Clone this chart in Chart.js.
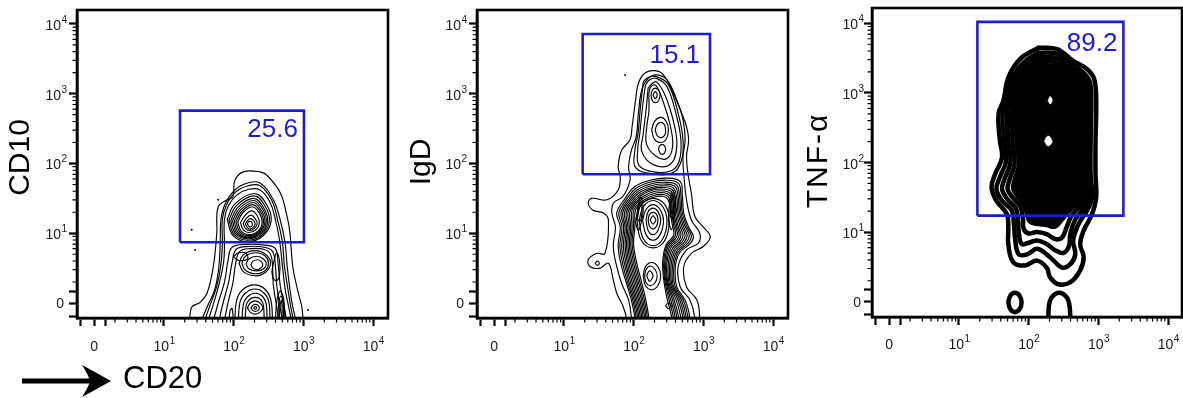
<!DOCTYPE html>
<html><head><meta charset="utf-8">
<script src="https://cdn.jsdelivr.net/npm/chart.js@4.4.1/dist/chart.umd.min.js"></script>
<style>
html,body{margin:0;padding:0;background:#fff}
body{width:1183px;height:398px;overflow:hidden;position:relative}
canvas{position:absolute;top:0}
</style></head><body>
<canvas id="c1" width="400" height="398" style="left:0px"></canvas>
<canvas id="c2" width="390" height="398" style="left:400px"></canvas>
<canvas id="c3" width="393" height="398" style="left:790px"></canvas>
<script>
// ---------- axis ticks (axis units = decades of a biexponential display) ----------
const tickValues = [0, 1, 2, 3, 4];
const tickBase = ['0', '10', '10', '10', '10'];
const tickExp = ['', '1', '2', '3', '4'];
const extraTickValues = [-0.19, 0.17];
const panelTitles = ['CD10', 'IgD', 'TNF-α'];
const xAxisTitle = 'CD20';
const gatePercents = ['25.6', '15.1', '89.2'];
// gates: [xMin, yMin, xMax, yMax]
const gateCD10 = [1.233, 0.87, 3.01, 2.757];
const gateIgD = [1.271, 1.845, 3.097, 3.857];
const gateTNF = [1.267, 1.236, 3.36, 4.02];

// ---------- panel 1 (CD10 vs CD20) contours ----------
const cd10Open = [
  [1.37,-0.3, 1.40,-0.06, 1.52,0.01, 1.62,0.14, 1.71,0.52, 1.76,1.0, 1.78,1.38, 1.91,1.48, 1.99,1.52, 2.02,1.76, 2.14,1.88, 2.38,1.88, 2.48,1.83, 2.67,1.58, 2.77,1.23, 2.81,1.0, 2.85,0.52, 2.93,0.14, 2.98,-0.06, 3.0,-0.3],
  [1.52,-0.3, 1.62,-0.06, 1.73,0.19, 1.79,0.52, 1.81,0.9, 1.82,1.2, 1.88,1.42, 2.02,1.62, 2.2,1.72, 2.38,1.72, 2.57,1.48, 2.67,1.19, 2.74,0.86, 2.77,0.52, 2.81,0.19, 2.85,-0.06, 2.91,-0.3],
  [1.57,-0.3, 1.66,-0.04, 1.76,0.24, 1.82,0.56, 1.84,0.88, 1.84,1.2, 1.9,1.41, 2.03,1.59, 2.21,1.68, 2.38,1.68, 2.55,1.47, 2.63,1.2, 2.7,0.88, 2.73,0.53, 2.78,0.2, 2.82,-0.05, 2.87,-0.3],
  [1.62,-0.3, 1.71,-0.02, 1.8,0.3, 1.86,0.6, 1.87,0.85, 1.87,1.2, 1.93,1.4, 2.05,1.55, 2.22,1.63, 2.38,1.62, 2.52,1.45, 2.6,1.2, 2.66,0.9, 2.7,0.55, 2.74,0.2, 2.79,-0.05, 2.84,-0.3],
  [1.7,-0.3, 1.78,0.0, 1.87,0.3, 1.92,0.6, 1.98,0.8, 2.2,0.84, 2.45,0.83, 2.6,0.78, 2.64,0.55, 2.67,0.25, 2.72,-0.02, 2.77,-0.3],
  [1.78,-0.3, 1.85,0.0, 1.93,0.3, 1.98,0.58, 2.04,0.77, 2.22,0.81, 2.44,0.8, 2.56,0.74, 2.6,0.54, 2.62,0.25, 2.66,-0.02, 2.71,-0.3],
  [1.86,-0.3, 1.92,0.0, 1.99,0.28, 2.03,0.56, 2.09,0.74, 2.25,0.78, 2.43,0.77, 2.53,0.7, 2.56,0.52, 2.57,0.27, 2.61,0.0, 2.66,-0.3],
  [2.02,-0.35, 2.04,0.02, 2.13,0.19, 2.3,0.26, 2.46,0.19, 2.54,0.02, 2.56,-0.35],
  [2.07,-0.35, 2.09,0.0, 2.17,0.14, 2.31,0.2, 2.44,0.14, 2.51,0.0, 2.52,-0.35],
  [2.12,-0.35, 2.14,-0.02, 2.2,0.09, 2.31,0.14, 2.42,0.09, 2.47,-0.02, 2.48,-0.35],
  [2.17,-0.35, 2.18,-0.04, 2.23,0.05, 2.31,0.08, 2.39,0.05, 2.43,-0.04, 2.44,-0.35],
  [2.6,-0.3, 2.62,0.02, 2.67,0.17, 2.72,0.05, 2.74,-0.3],
  [2.63,-0.3, 2.65,0.0, 2.68,0.1, 2.71,0.0, 2.72,-0.3],
  [2.65,-0.3, 2.67,-0.02, 2.69,0.04, 2.7,-0.3],
  [1.93,-0.3, 1.95,-0.12, 1.98,-0.08, 2.0,-0.3]
];
const cd10Closed = [
  [1.91,1.2, 1.99,0.97, 2.2,0.88, 2.42,0.96, 2.54,1.18, 2.47,1.42, 2.3,1.57, 2.02,1.42],
  [1.935,1.19, 2.01,0.98, 2.2,0.9, 2.41,0.975, 2.515,1.175, 2.45,1.395, 2.295,1.535, 2.04,1.395],
  [1.96,1.18, 2.03,0.99, 2.21,0.92, 2.4,0.99, 2.49,1.17, 2.43,1.37, 2.29,1.5, 2.06,1.37],
  [1.985,1.175, 2.05,1.0, 2.21,0.935, 2.385,1.0, 2.47,1.165, 2.415,1.35, 2.285,1.47, 2.08,1.35],
  [2.01,1.17, 2.07,1.01, 2.21,0.95, 2.37,1.01, 2.45,1.16, 2.4,1.33, 2.28,1.44, 2.1,1.33],
  [2.035,1.165, 2.09,1.02, 2.215,0.965, 2.36,1.02, 2.43,1.155, 2.385,1.31, 2.275,1.41, 2.115,1.31],
  [2.06,1.16, 2.11,1.03, 2.22,0.98, 2.35,1.03, 2.41,1.15, 2.37,1.29, 2.27,1.38, 2.13,1.29],
  [2.1,1.15, 2.14,1.05, 2.22,1.01, 2.32,1.05, 2.37,1.14, 2.34,1.25, 2.26,1.32, 2.16,1.25],
  [2.14,1.14, 2.17,1.07, 2.23,1.04, 2.3,1.07, 2.34,1.14, 2.31,1.21, 2.25,1.26, 2.18,1.21],
  [2.17,1.13, 2.2,1.08, 2.23,1.06, 2.28,1.08, 2.31,1.13, 2.29,1.18, 2.24,1.21, 2.2,1.18],
  [2.2,1.13, 2.22,1.1, 2.24,1.09, 2.26,1.1, 2.27,1.13, 2.26,1.16, 2.24,1.17, 2.21,1.16],
  [2.08,0.57, 2.14,0.45, 2.31,0.39, 2.46,0.44, 2.53,0.57, 2.47,0.69, 2.31,0.75, 2.14,0.69],
  [2.12,0.57, 2.17,0.47, 2.32,0.42, 2.46,0.47, 2.5,0.57, 2.46,0.67, 2.32,0.72, 2.17,0.67],
  [2.18,0.56, 2.22,0.49, 2.33,0.46, 2.43,0.49, 2.47,0.56, 2.43,0.63, 2.33,0.67, 2.22,0.63],
  [2.25,0.55, 2.28,0.5, 2.34,0.48, 2.39,0.5, 2.42,0.55, 2.39,0.6, 2.34,0.62, 2.28,0.6],
  [2.55,0.45, 2.58,0.6, 2.62,0.72, 2.66,0.6, 2.66,0.4, 2.62,0.32, 2.57,0.35],
  [2.0,0.66, 2.08,0.61, 2.2,0.63, 2.18,0.71, 2.07,0.72],
  [2.2,-0.07, 2.24,0.0, 2.31,0.03, 2.38,0.0, 2.42,-0.07, 2.38,-0.13, 2.31,-0.16, 2.24,-0.13],
  [2.25,-0.07, 2.28,-0.03, 2.31,-0.02, 2.35,-0.03, 2.37,-0.07, 2.35,-0.11, 2.31,-0.12, 2.28,-0.11],
  [2.29,-0.07, 2.31,-0.05, 2.33,-0.07, 2.31,-0.09]
];
const cd10Events = [1.4,1.05, 1.45,0.76, 1.78,1.48, 3.07,-0.1];

// ---------- panel 2 (IgD vs CD20) contours ----------
const igdOpen = [
  [1.90,-0.39, 1.90,-0.22, 1.85,-0.05, 1.76,0.14, 1.71,0.33, 1.64,0.57, 1.52,0.50, 1.38,0.52, 1.35,0.62, 1.47,0.71, 1.59,0.71, 1.64,1.19, 1.57,1.29, 1.42,1.33, 1.35,1.43, 1.40,1.50, 1.62,1.48, 1.78,1.62, 1.81,1.81, 1.78,1.95, 1.83,2.19, 1.95,2.34, 1.98,2.53, 2.03,2.91, 2.07,3.15, 2.17,3.3, 2.31,3.33, 2.43,3.27, 2.57,3.01, 2.69,2.72, 2.76,2.53, 2.79,2.34, 2.76,2.10, 2.78,1.86, 2.83,1.57, 2.88,1.24, 3.0,1.09, 3.1,0.95, 3.0,0.81, 2.83,0.71, 2.72,0.52, 2.76,0.23, 2.91,0.04, 2.95,-0.22, 2.95,-0.39],
  [1.97,-0.39, 1.97,-0.22, 1.93,0.04, 1.83,0.28, 1.76,0.52, 1.71,0.81, 1.74,1.09, 1.69,1.29, 1.71,1.43, 1.85,1.53, 1.95,1.76, 1.93,1.95, 1.97,2.19, 2.04,2.39, 2.07,2.72, 2.12,3.06, 2.21,3.22, 2.33,3.27, 2.48,3.2, 2.62,2.91, 2.71,2.63, 2.74,2.34, 2.71,2.10, 2.72,1.86, 2.76,1.48, 2.83,1.19, 2.95,1.0, 2.93,0.86, 2.76,0.76, 2.64,0.52, 2.67,0.23, 2.81,0.04, 2.88,-0.22, 2.88,-0.39],
  [2.02,-0.39, 2.02,-0.22, 1.97,0.04, 1.9,0.28, 1.83,0.52, 1.78,0.81, 1.81,1.09, 1.76,1.29, 1.88,1.5, 2.02,1.67, 2.24,1.76, 2.48,1.79, 2.67,1.74, 2.7,1.55, 2.72,1.29, 2.79,1.09, 2.86,0.95, 2.8,0.84, 2.66,0.72, 2.6,0.52, 2.62,0.23, 2.74,0.04, 2.81,-0.22, 2.81,-0.39],
  [2.04,-0.39, 2.04,-0.22, 1.99,0.04, 1.92,0.28, 1.855,0.52, 1.805,0.81, 1.835,1.09, 1.79,1.29, 1.9,1.485, 2.035,1.645, 2.25,1.735, 2.475,1.76, 2.645,1.715, 2.68,1.54, 2.7,1.29, 2.765,1.095, 2.83,0.955, 2.775,0.85, 2.64,0.73, 2.58,0.53, 2.595,0.24, 2.715,0.04, 2.785,-0.22, 2.785,-0.39],
  [2.06,-0.39, 2.06,-0.22, 2.01,0.04, 1.94,0.28, 1.88,0.52, 1.83,0.81, 1.86,1.09, 1.82,1.29, 1.92,1.47, 2.05,1.62, 2.26,1.71, 2.47,1.73, 2.62,1.69, 2.66,1.53, 2.68,1.29, 2.74,1.1, 2.8,0.96, 2.75,0.86, 2.62,0.74, 2.56,0.54, 2.57,0.25, 2.69,0.04, 2.76,-0.22, 2.76,-0.39],
  [2.08,-0.39, 2.08,-0.22, 2.03,0.04, 1.96,0.29, 1.9,0.53, 1.855,0.815, 1.88,1.09, 1.845,1.29, 1.935,1.455, 2.065,1.6, 2.265,1.685, 2.465,1.705, 2.6,1.665, 2.64,1.515, 2.66,1.29, 2.715,1.1, 2.77,0.965, 2.725,0.87, 2.6,0.755, 2.54,0.55, 2.55,0.26, 2.665,0.04, 2.735,-0.22, 2.735,-0.39],
  [2.1,-0.39, 2.1,-0.22, 2.05,0.04, 1.98,0.3, 1.92,0.54, 1.88,0.82, 1.9,1.09, 1.87,1.29, 1.95,1.44, 2.08,1.58, 2.27,1.66, 2.46,1.68, 2.58,1.64, 2.62,1.5, 2.64,1.29, 2.69,1.1, 2.74,0.97, 2.7,0.88, 2.58,0.77, 2.52,0.56, 2.53,0.27, 2.64,0.04, 2.71,-0.22, 2.71,-0.39],
  [2.12,-0.39, 2.12,-0.22, 2.07,0.045, 2.0,0.31, 1.94,0.55, 1.9,0.825, 1.92,1.09, 1.895,1.29, 1.965,1.425, 2.095,1.56, 2.275,1.64, 2.455,1.655, 2.565,1.615, 2.6,1.485, 2.62,1.29, 2.665,1.1, 2.71,0.975, 2.675,0.89, 2.56,0.785, 2.5,0.57, 2.51,0.285, 2.61,0.045, 2.68,-0.22, 2.68,-0.39],
  [2.14,-0.39, 2.14,-0.22, 2.09,0.05, 2.02,0.32, 1.96,0.56, 1.92,0.83, 1.94,1.09, 1.92,1.29, 1.98,1.41, 2.11,1.54, 2.28,1.62, 2.45,1.63, 2.55,1.59, 2.58,1.47, 2.6,1.29, 2.64,1.1, 2.68,0.98, 2.65,0.9, 2.54,0.8, 2.48,0.58, 2.49,0.3, 2.58,0.05, 2.65,-0.22, 2.65,-0.39],
  [2.16,-0.39, 2.16,-0.22, 2.11,0.055, 2.04,0.33, 1.98,0.57, 1.94,0.835, 1.96,1.09, 1.945,1.29, 1.995,1.4, 2.125,1.52, 2.285,1.595, 2.445,1.605, 2.535,1.565, 2.565,1.455, 2.58,1.29, 2.62,1.1, 2.655,0.985, 2.625,0.91, 2.52,0.81, 2.465,0.59, 2.475,0.315, 2.555,0.055, 2.625,-0.22, 2.625,-0.39],
  [2.18,-0.39, 2.18,-0.22, 2.13,0.06, 2.06,0.34, 2.0,0.58, 1.96,0.84, 1.98,1.09, 1.97,1.29, 2.01,1.39, 2.14,1.5, 2.29,1.57, 2.44,1.58, 2.52,1.54, 2.55,1.44, 2.56,1.29, 2.6,1.1, 2.63,0.99, 2.6,0.92, 2.5,0.82, 2.45,0.6, 2.46,0.33, 2.53,0.06, 2.6,-0.22, 2.6,-0.39],
  [2.2,-0.39, 2.2,-0.22, 2.15,0.065, 2.08,0.35, 2.02,0.59, 1.98,0.845, 2.0,1.09, 1.995,1.29, 2.03,1.38, 2.155,1.48, 2.295,1.545, 2.43,1.555, 2.505,1.515, 2.535,1.42, 2.545,1.29, 2.58,1.1, 2.605,0.995, 2.58,0.93, 2.485,0.83, 2.435,0.61, 2.445,0.345, 2.505,0.065, 2.575,-0.22, 2.575,-0.39],
  [2.22,-0.39, 2.22,-0.22, 2.17,0.07, 2.1,0.36, 2.04,0.6, 2.0,0.85, 2.02,1.09, 2.02,1.29, 2.05,1.37, 2.17,1.46, 2.3,1.52, 2.42,1.53, 2.49,1.49, 2.52,1.4, 2.53,1.29, 2.56,1.1, 2.58,1.0, 2.56,0.94, 2.47,0.84, 2.42,0.62, 2.43,0.36, 2.48,0.07, 2.55,-0.22, 2.55,-0.39]
];
const igdClosed = [
  [2.14,3.17, 2.1,2.82, 2.065,2.43, 2.02,2.19, 2.03,1.94, 2.29,1.85, 2.57,1.87, 2.69,2.05, 2.71,2.33, 2.65,2.68, 2.5,3.13, 2.33,3.245, 2.2,3.23],
  [2.17,3.12, 2.13,2.82, 2.09,2.43, 2.06,2.19, 2.08,1.97, 2.29,1.88, 2.55,1.9, 2.66,2.05, 2.68,2.33, 2.62,2.67, 2.48,3.1, 2.33,3.22, 2.23,3.2],
  [2.21,3.08, 2.18,2.77, 2.14,2.43, 2.12,2.17, 2.29,1.98, 2.53,1.99, 2.62,2.24, 2.58,2.57, 2.46,2.96, 2.33,3.17, 2.26,3.14],
  [2.22,3.0, 2.22,2.74, 2.19,2.53, 2.19,2.27, 2.33,2.1, 2.48,2.07, 2.56,2.24, 2.53,2.53, 2.42,2.9, 2.32,3.12, 2.25,3.1],
  [2.25,2.98, 2.27,2.9, 2.31,2.87, 2.36,2.9, 2.38,2.98, 2.36,3.05, 2.31,3.08, 2.27,3.05],
  [2.28,2.98, 2.31,2.93, 2.34,2.98, 2.31,3.03],
  [2.26,2.48, 2.3,2.35, 2.39,2.3, 2.47,2.35, 2.5,2.48, 2.47,2.6, 2.39,2.66, 2.3,2.6],
  [2.31,2.48, 2.34,2.4, 2.4,2.37, 2.45,2.41, 2.46,2.48, 2.44,2.56, 2.39,2.59, 2.34,2.56],
  [2.36,2.2, 2.38,2.15, 2.42,2.13, 2.45,2.16, 2.46,2.21, 2.44,2.26, 2.41,2.27, 2.37,2.25],
  [2.05,1.18, 2.11,0.9, 2.28,0.79, 2.45,0.9, 2.51,1.18, 2.45,1.41, 2.28,1.5, 2.11,1.41],
  [2.08,1.18, 2.14,0.92, 2.28,0.82, 2.42,0.92, 2.48,1.18, 2.42,1.38, 2.28,1.47, 2.14,1.38],
  [2.13,1.18, 2.18,0.98, 2.28,0.9, 2.38,0.98, 2.43,1.18, 2.38,1.34, 2.28,1.41, 2.18,1.34],
  [2.18,1.19, 2.21,1.04, 2.28,0.98, 2.35,1.04, 2.39,1.19, 2.35,1.31, 2.28,1.36, 2.21,1.31],
  [2.21,1.19, 2.23,1.1, 2.28,1.06, 2.33,1.1, 2.35,1.19, 2.33,1.27, 2.28,1.3, 2.23,1.27],
  [2.24,1.19, 2.26,1.15, 2.28,1.13, 2.3,1.15, 2.32,1.19, 2.3,1.23, 2.28,1.25, 2.26,1.23],
  [2.03,1.15, 2.06,1.35, 2.1,1.52, 2.14,1.35, 2.11,1.15, 2.07,1.04],
  [2.05,1.2, 2.07,1.35, 2.1,1.45, 2.12,1.33, 2.1,1.18],
  [2.5,1.2, 2.52,1.45, 2.56,1.62, 2.6,1.45, 2.58,1.2, 2.54,1.05],
  [2.52,1.25, 2.54,1.45, 2.56,1.55, 2.58,1.42, 2.56,1.22],
  [2.14,0.39, 2.17,0.25, 2.26,0.19, 2.35,0.25, 2.39,0.39, 2.35,0.52, 2.26,0.58, 2.17,0.52],
  [2.16,0.39, 2.18,0.29, 2.24,0.25, 2.31,0.29, 2.34,0.39, 2.31,0.48, 2.24,0.53, 2.18,0.48],
  [2.19,0.39, 2.21,0.34, 2.23,0.31, 2.26,0.34, 2.28,0.39, 2.26,0.44, 2.23,0.46, 2.21,0.44],
  [2.46,-0.04, 2.5,0.0, 2.54,-0.04, 2.5,-0.08],
  [1.45,0.57, 1.48,0.6, 1.51,0.57, 1.48,0.54]
];
const igdEvents = [1.88,3.27];

// ---------- panel 3 (TNF-α vs CD20) contours ----------
const tnfOpen = [
  [2.29,-0.4, 2.29,-0.08, 2.33,0.06, 2.44,0.13, 2.55,0.06, 2.59,-0.08, 2.6,-0.4]
];
const tnfClosed = [
  [2.14,3.65, 2.41,3.63, 2.64,3.46, 2.84,3.34, 2.94,3.2, 2.97,2.89, 2.96,2.31, 2.96,1.83, 2.97,1.5, 2.91,1.26, 2.79,1.02, 2.74,0.83, 2.79,0.64, 2.74,0.45, 2.6,0.28, 2.43,0.25, 2.31,0.35, 2.26,0.49, 2.12,0.59, 1.95,0.52, 1.78,0.57, 1.71,0.83, 1.71,1.07, 1.69,1.26, 1.54,1.45, 1.47,1.64, 1.52,1.83, 1.62,2.07, 1.59,2.31, 1.57,2.7, 1.64,2.89, 1.71,3.22, 1.88,3.49],
  [2.14,3.58, 2.41,3.56, 2.62,3.41, 2.79,3.29, 2.88,3.15, 2.9,2.89, 2.89,2.31, 2.89,1.83, 2.91,1.5, 2.84,1.31, 2.72,1.12, 2.64,0.88, 2.67,0.68, 2.6,0.54, 2.48,0.49, 2.36,0.59, 2.26,0.68, 2.12,0.76, 1.98,0.68, 1.86,0.68, 1.81,0.88, 1.79,1.12, 1.76,1.31, 1.62,1.45, 1.54,1.62, 1.59,1.79, 1.68,2.03, 1.65,2.31, 1.63,2.7, 1.7,2.89, 1.76,3.2, 1.93,3.44],
  [2.14,3.52, 2.4,3.5, 2.6,3.36, 2.76,3.24, 2.84,3.1, 2.86,2.89, 2.85,2.31, 2.85,1.83, 2.86,1.5, 2.79,1.34, 2.67,1.18, 2.6,0.98, 2.58,0.8, 2.5,0.7, 2.38,0.74, 2.26,0.83, 2.12,0.88, 1.98,0.84, 1.9,0.83, 1.86,1.0, 1.85,1.17, 1.82,1.34, 1.7,1.47, 1.62,1.62, 1.66,1.77, 1.74,2.0, 1.71,2.31, 1.69,2.7, 1.75,2.9, 1.81,3.18, 1.97,3.4],
  [2.14,3.46, 2.39,3.44, 2.58,3.31, 2.73,3.19, 2.8,3.05, 2.82,2.89, 2.81,2.31, 2.81,1.83, 2.82,1.52, 2.75,1.38, 2.62,1.24, 2.55,1.08, 2.48,0.92, 2.38,0.9, 2.26,0.97, 2.12,1.0, 2.0,0.98, 1.93,1.05, 1.92,1.2, 1.88,1.37, 1.77,1.5, 1.7,1.62, 1.73,1.76, 1.8,1.98, 1.77,2.31, 1.75,2.7, 1.8,2.9, 1.86,3.16, 2.0,3.36],
  [1.71,-0.01, 1.74,0.09, 1.805,0.13, 1.87,0.09, 1.9,-0.01, 1.87,-0.11, 1.805,-0.15, 1.74,-0.11]
];
const tnfCore = [2.14,3.4, 2.38,3.38, 2.56,3.26, 2.7,3.14, 2.77,3.0, 2.78,2.89, 2.77,2.31, 2.77,1.83, 2.78,1.55, 2.71,1.42, 2.58,1.3, 2.48,1.18, 2.38,1.08, 2.26,1.1, 2.12,1.12, 2.02,1.15, 1.98,1.26, 1.93,1.4, 1.84,1.52, 1.78,1.63, 1.8,1.75, 1.86,1.96, 1.83,2.31, 1.8,2.7, 1.85,2.9, 1.9,3.14, 2.02,3.32];
const tnfHoles = [
  [2.28,2.89, 2.31,2.95, 2.34,2.89, 2.31,2.84],
  [2.23,2.31, 2.26,2.37, 2.29,2.38, 2.32,2.35, 2.34,2.3, 2.31,2.25, 2.27,2.24]
];

// ---------- helpers ----------
const FONT = "'Liberation Sans', Arial, Helvetica, sans-serif";
const GATE_BLUE = '#1e1ec8';
const minorTickValues = [];
[0, 1, 2, 3].forEach(d => { for (let k = 2; k <= 9; k++) minorTickValues.push(d + Math.log10(k)); });

function toPts(arr, close) {
  const pts = [];
  for (let i = 0; i < arr.length; i += 2) pts.push({x: arr[i], y: arr[i + 1]});
  if (close) pts.push({x: arr[0], y: arr[1]});
  return pts;
}
function lineDs(data, width, extra) {
  return Object.assign({data, showLine: true, pointRadius: 0, borderColor: '#000', borderWidth: width,
    tension: 0.4, clip: 0, fill: false, borderJoinStyle: 'round', borderCapStyle: 'round'}, extra || {});
}
function gateDs(g) {
  return lineDs(toPts([g[0], g[1], g[2], g[1], g[2], g[3], g[0], g[3]], true), 2.6,
    {borderColor: GATE_BLUE, tension: 0, borderJoinStyle: 'miter', borderCapStyle: 'butt'});
}
function eventDs(arr) {
  return {data: toPts(arr, false), showLine: false, pointRadius: 1, pointBorderWidth: 0,
    pointBackgroundColor: '#000', clip: 0};
}
function ordered(list) { const n = list.length; list.forEach((d, i) => d.order = n - i); return list; }

const decoPlugin = {
  id: 'deco',
  afterDraw(chart, args, o) {
    const {ctx, chartArea: a} = chart;
    const xs = chart.scales.x, ys = chart.scales.y;
    ctx.save();
    ctx.strokeStyle = '#000';
    ctx.lineWidth = 1.2;
    ctx.beginPath();
    minorTickValues.forEach(v => {
      const px = xs.getPixelForValue(v);
      ctx.moveTo(px, a.bottom); ctx.lineTo(px, a.bottom + 4.5);
      const py = ys.getPixelForValue(v);
      ctx.moveTo(a.left, py); ctx.lineTo(a.left - 4.5, py);
    });
    ctx.stroke();
    ctx.lineWidth = 2.6;
    ctx.strokeRect(a.left, a.top, a.right - a.left, a.bottom - a.top);
    // tick labels with superscript exponents
    ctx.fillStyle = '#1a1a1a';
    ctx.textBaseline = 'alphabetic';
    tickValues.forEach((v, i) => {
      const px = xs.getPixelForValue(v), py = ys.getPixelForValue(v);
      ctx.font = '14px ' + FONT;
      const w = ctx.measureText(tickBase[i]).width;
      if (tickExp[i]) {
        ctx.textAlign = 'center';
        ctx.fillText(tickBase[i], px - 2.5, a.bottom + o.xLab);
        ctx.textAlign = 'right';
        ctx.fillText(tickBase[i], a.left - o.yLab, py + 6);
        ctx.font = '10px ' + FONT;
        ctx.textAlign = 'left';
        ctx.fillText(tickExp[i], px - 2.5 + w / 2 + 0.5, a.bottom + o.xLab - 7.5);
        ctx.fillText(tickExp[i], a.left - o.yLab + 0.5, py - 1);
      } else {
        ctx.textAlign = 'center';
        ctx.fillText(tickBase[i], px, a.bottom + o.xLab);
        ctx.textAlign = 'right';
        ctx.fillText(tickBase[i], a.left - o.yLab + 3, py + 5);
      }
    });
    // y axis title
    ctx.save();
    ctx.fillStyle = '#000';
    ctx.font = '30px ' + FONT;
    if (o.titleSpacing) ctx.letterSpacing = o.titleSpacing;
    ctx.translate(o.titleX, o.titleY);
    ctx.rotate(-Math.PI / 2);
    ctx.textAlign = 'center';
    ctx.textBaseline = 'middle';
    ctx.fillText(o.title, 0, 0);
    ctx.restore();
    // gate percentage
    ctx.fillStyle = GATE_BLUE;
    ctx.font = '26px ' + FONT;
    ctx.textAlign = 'right';
    ctx.textBaseline = 'alphabetic';
    ctx.fillText(o.label, xs.getPixelForValue(o.gate[2]) - o.dx, ys.getPixelForValue(o.gate[3]) + o.dy);
    if (o.xTitle) {
      ctx.fillStyle = '#000';
      ctx.lineWidth = 5;
      ctx.beginPath(); ctx.moveTo(22, 381); ctx.lineTo(92, 381); ctx.stroke();
      ctx.beginPath();
      ctx.moveTo(111, 381);
      ctx.quadraticCurveTo(95, 372, 82, 365);
      ctx.quadraticCurveTo(88, 374, 90, 381);
      ctx.quadraticCurveTo(88, 388, 82, 397);
      ctx.quadraticCurveTo(95, 390, 111, 381);
      ctx.closePath(); ctx.fill();
      ctx.font = '31px ' + FONT;
      ctx.textAlign = 'left';
      ctx.fillText(o.xTitle, 123, 388);
    }
    ctx.restore();
  }
};

function makeChart(id, datasets, cfg) {
  const allTicks = tickValues.concat(extraTickValues).sort((a, b) => a - b);
  return new Chart(document.getElementById(id), {
    type: 'line',
    data: {datasets: ordered(datasets)},
    options: {
      responsive: false, animation: false, events: [],
      layout: {autoPadding: false, padding: {left: 0, right: cfg.padRight, top: cfg.padTop, bottom: 0}},
      plugins: {legend: {display: false}, tooltip: {enabled: false},
        deco: {gate: cfg.gate, label: cfg.label, dx: cfg.dx, dy: cfg.dy, xTitle: cfg.xTitle,
          title: cfg.title, titleX: cfg.titleX, titleY: cfg.titleY, titleSpacing: cfg.titleSpacing,
          xLab: cfg.xLab, yLab: cfg.yLab}},
      scales: {
        x: {
          type: 'linear', position: 'bottom', min: cfg.xMin, max: cfg.xMax,
          afterBuildTicks: s => { s.ticks = allTicks.map(v => ({value: v})); },
          afterFit: s => { s.height = cfg.xHeight; },
          grid: {drawOnChartArea: false, drawTicks: true, tickLength: 8, tickWidth: 2.2, tickColor: '#000'},
          border: {display: true, color: '#000', width: 2.6},
          ticks: {display: false, autoSkip: false}
        },
        y: {
          type: 'linear', position: 'left', min: cfg.yMin, max: cfg.yMax,
          afterBuildTicks: s => { s.ticks = allTicks.map(v => ({value: v})); },
          afterFit: s => { s.width = cfg.yWidth; },
          grid: {drawOnChartArea: false, drawTicks: true, tickLength: 8, tickWidth: 2.2, tickColor: '#000'},
          border: {display: true, color: '#000', width: 2.6},
          ticks: {display: false, autoSkip: false},
          title: {display: false}
        }
      }
    },
    plugins: [decoPlugin]
  });
}

// panel 1
const ds1 = [];
cd10Open.forEach(a => ds1.push(lineDs(toPts(a, false), 1.15)));
cd10Closed.forEach(a => ds1.push(lineDs(toPts(a, true), 1.15)));
ds1.push(eventDs(cd10Events));
ds1.push(gateDs(gateCD10));
makeChart('c1', ds1, {gate: gateCD10, label: gatePercents[0], dx: 6, dy: 26, xTitle: xAxisTitle,
  title: panelTitles[0], titleX: 20.5, titleY: 157.5, xLab: 33, yLab: 16,
  padRight: 12, padTop: 10, xHeight: 80, yWidth: 77,
  xMin: -0.244, xMax: 4.215, yMin: -0.215, yMax: 4.2});

// panel 2
const ds2 = [];
igdOpen.forEach(a => ds2.push(lineDs(toPts(a, false), 1.15)));
igdClosed.forEach(a => ds2.push(lineDs(toPts(a, true), 1.15)));
ds2.push(eventDs(igdEvents));
ds2.push(gateDs(gateIgD));
makeChart('c2', ds2, {gate: gateIgD, label: gatePercents[1], dx: 10, dy: 29,
  title: panelTitles[1], titleX: 22, titleY: 162, xLab: 33, yLab: 16,
  padRight: 2, padTop: 10, xHeight: 80, yWidth: 77,
  xMin: -0.244, xMax: 4.215, yMin: -0.215, yMax: 4.2});

// panel 3
const ds3 = [];
tnfClosed.forEach(a => ds3.push(lineDs(toPts(a, true), 4.5)));
tnfOpen.forEach(a => ds3.push(lineDs(toPts(a, false), 4.5)));
ds3.push(lineDs(toPts(tnfCore, true), 4.5, {fill: 'shape', backgroundColor: '#000'}));
tnfHoles.forEach(a => ds3.push(lineDs(toPts(a, true), 0.5, {fill: 'shape', backgroundColor: '#fff', borderColor: '#fff'})));
ds3.push(gateDs(gateTNF));
makeChart('c3', ds3, {gate: gateTNF, label: gatePercents[2], dx: 6, dy: 29,
  title: panelTitles[2], titleX: 29, titleY: 160.5, titleSpacing: '2px', xLab: 32, yLab: 14,
  padRight: 1, padTop: 8, xHeight: 81, yWidth: 82,
  xMin: -0.244, xMax: 4.2, yMin: -0.22, yMax: 4.22});
</script>
</body></html>
